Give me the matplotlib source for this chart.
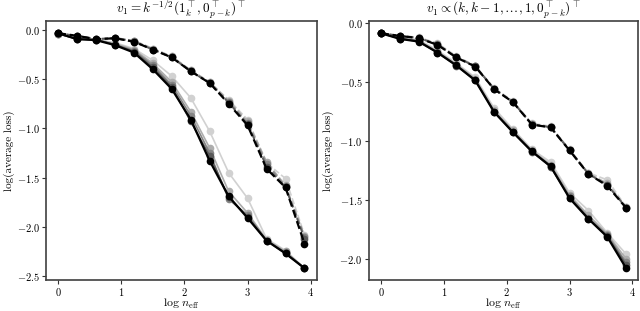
import matplotlib
matplotlib.use("Agg")
import matplotlib.pyplot as plt
from matplotlib.ticker import MultipleLocator

plt.rcParams['font.family'] = 'serif'
plt.rcParams['font.serif'] = ['cmr10', 'DejaVu Serif']
plt.rcParams['mathtext.fontset'] = 'cm'
plt.rcParams['axes.formatter.use_mathtext'] = True

log_n = [0.0, 0.3, 0.6, 0.9, 1.2, 1.5, 1.8, 2.1, 2.4, 2.7, 3.0, 3.3, 3.6, 3.9]
shades = ['0.82', '0.68', '0.52', '0.35', '0.0']

# Left panel, solid family (lightest -> black)
left_solid = [
    [-0.04, -0.09, -0.10, -0.13, -0.19, -0.31, -0.47, -0.69, -1.03, -1.45, -1.71, -2.12, -2.24, -2.42],
    [-0.04, -0.09, -0.10, -0.14, -0.20, -0.34, -0.53, -0.83, -1.20, -1.64, -1.86, -2.13, -2.25, -2.42],
    [-0.04, -0.09, -0.10, -0.15, -0.21, -0.36, -0.56, -0.87, -1.25, -1.72, -1.88, -2.14, -2.26, -2.42],
    [-0.035, -0.095, -0.10, -0.15, -0.22, -0.38, -0.58, -0.93, -1.28, -1.70, -1.90, -2.14, -2.27, -2.42],
    [-0.034, -0.094, -0.104, -0.155, -0.23, -0.40, -0.60, -0.91, -1.33, -1.69, -1.91, -2.14, -2.27, -2.42],
]
left_dashed = [
    [-0.04, -0.06, -0.09, -0.08, -0.11, -0.19, -0.27, -0.41, -0.53, -0.71, -0.91, -1.35, -1.51, -2.08],
    [-0.04, -0.06, -0.09, -0.08, -0.11, -0.19, -0.27, -0.41, -0.53, -0.72, -0.93, -1.34, -1.58, -2.09],
    [-0.035, -0.06, -0.095, -0.085, -0.115, -0.20, -0.28, -0.42, -0.54, -0.73, -0.95, -1.36, -1.59, -2.10],
    [-0.035, -0.06, -0.095, -0.085, -0.12, -0.20, -0.28, -0.42, -0.54, -0.74, -0.96, -1.39, -1.60, -2.12],
    [-0.034, -0.06, -0.095, -0.085, -0.12, -0.20, -0.28, -0.42, -0.54, -0.75, -0.97, -1.41, -1.60, -2.17],
]
# Right panel
right_solid = [
    [-0.085, -0.12, -0.14, -0.23, -0.34, -0.46, -0.72, -0.90, -1.07, -1.18, -1.44, -1.59, -1.78, -1.96],
    [-0.085, -0.125, -0.15, -0.24, -0.35, -0.47, -0.74, -0.91, -1.08, -1.20, -1.46, -1.63, -1.79, -2.00],
    [-0.085, -0.13, -0.15, -0.245, -0.355, -0.48, -0.75, -0.92, -1.085, -1.22, -1.47, -1.65, -1.80, -2.03],
    [-0.085, -0.13, -0.155, -0.25, -0.36, -0.485, -0.75, -0.925, -1.09, -1.22, -1.48, -1.66, -1.81, -2.05],
    [-0.085, -0.133, -0.156, -0.249, -0.359, -0.486, -0.754, -0.926, -1.088, -1.215, -1.486, -1.661, -1.814, -2.08],
]
right_dashed = [
    [-0.085, -0.105, -0.12, -0.17, -0.28, -0.36, -0.55, -0.66, -0.85, -0.875, -1.07, -1.27, -1.33, -1.56],
    [-0.085, -0.106, -0.122, -0.175, -0.285, -0.362, -0.555, -0.665, -0.855, -0.88, -1.075, -1.275, -1.36, -1.56],
    [-0.085, -0.107, -0.125, -0.18, -0.288, -0.365, -0.558, -0.668, -0.858, -0.882, -1.078, -1.278, -1.37, -1.565],
    [-0.085, -0.108, -0.126, -0.182, -0.29, -0.367, -0.56, -0.67, -0.86, -0.884, -1.08, -1.28, -1.375, -1.565],
    [-0.085, -0.108, -0.127, -0.184, -0.291, -0.368, -0.56, -0.67, -0.86, -0.885, -1.08, -1.28, -1.38, -1.568],
]

titles = [r'$v_1 = k^{-1/2}(\mathbf{1}_k^\top, \mathbf{0}_{p-k}^\top)^\top$',
          r'$v_1 \propto (k, k-1, \ldots, 1, \mathbf{0}_{p-k}^\top)^\top$']

fig = plt.figure(figsize=(6.4, 3.11), dpi=100)
ax1 = fig.add_axes([0.0714, 0.0997, 0.4236, 0.8313])
ax2 = fig.add_axes([0.576, 0.0997, 0.4215, 0.8313])

for ax, solid, dashed, title, ylx in [(ax1, left_solid, left_dashed, titles[0], -0.135),
                                      (ax2, right_solid, right_dashed, titles[1], -0.15)]:
    for i, c in enumerate(shades):
        lw = 1.6 if c == '0.0' else 1.2
        ax.plot(log_n, dashed[i], ls='--', color=c, marker='o', ms=4.5, lw=lw, zorder=2 + i)
        ax.plot(log_n, solid[i], ls='-', color=c, marker='o', ms=4.5, lw=lw, zorder=2 + i)
    ax.set_title(title, fontsize=9.5, pad=5)
    ax.set_xlabel(r'$\log\, n_{\mathrm{eff}}$', fontsize=8.5, va='baseline')
    ax.set_ylabel('log(average loss)', fontsize=8, va='center')
    ax.xaxis.set_label_coords(0.5, -0.104)
    ax.yaxis.set_label_coords(ylx, 0.5)
    ax.set_xticks([0, 1, 2, 3, 4])
    ax.yaxis.set_major_locator(MultipleLocator(0.5))
    ax.tick_params(labelsize=7.5, length=3, width=0.8, color='0.2', pad=1.5)
    for s in ax.spines.values():
        s.set_color('0.25')
        s.set_linewidth(1.2)

fig.savefig('out.png', dpi=100)
